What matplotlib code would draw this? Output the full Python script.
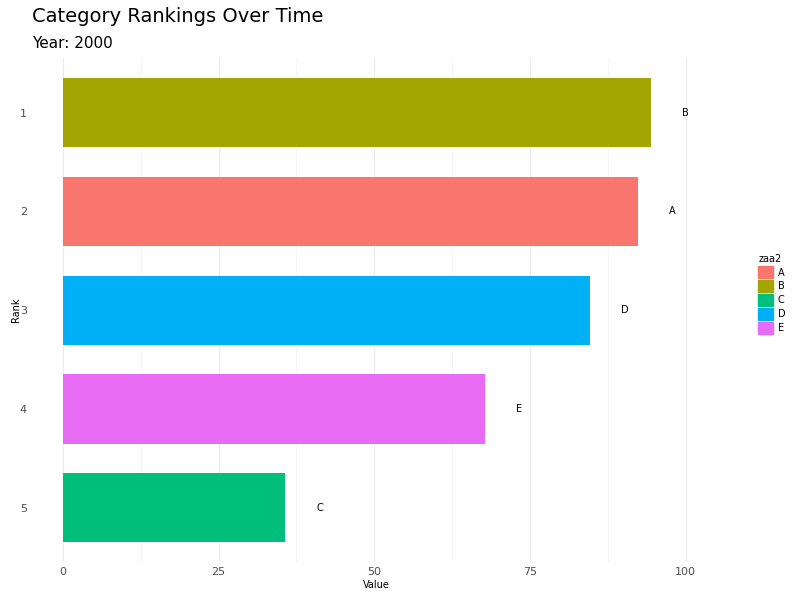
import matplotlib.pyplot as plt
import matplotlib.patches as mpatches

categories = ["B", "A", "D", "E", "C"]
values = [94.4, 92.3, 84.7, 67.8, 35.7]
ranks = [1, 2, 3, 4, 5]
legend_cats = ["A", "B", "C", "D", "E"]
colors = {"A": "#F8766D", "B": "#A3A500", "C": "#00BF7D", "D": "#00B0F6", "E": "#E76BF3"}

fig = plt.figure(figsize=(8, 6), dpi=100)
ax = fig.add_axes([0.0475, 0.063, 0.846, 0.84])

ax.barh(ranks, values, height=0.7, color=[colors[c] for c in categories], zorder=2)
for r, v, c in zip(ranks, values, categories):
    ax.text(v + 5.5, r, c, ha="center", va="center", fontsize=7, color="black")

ax.set_xlim(-4, 104.7)
ax.set_ylim(5.55, 0.45)
ax.set_xticks([0, 25, 50, 75, 100])
ax.set_xticks([12.5, 37.5, 62.5, 87.5], minor=True)
ax.set_yticks(ranks)
ax.tick_params(axis="both", which="both", length=0, labelsize=8, colors="#4D4D4D")
ax.tick_params(axis="y", pad=8)
ax.grid(True, axis="x", which="major", color="#EBEBEB", linewidth=0.8, zorder=0)
ax.grid(True, axis="x", which="minor", color="#F3F3F3", linewidth=0.5, zorder=0)
for s in ax.spines.values():
    s.set_visible(False)

ax.set_xlabel("Value", fontsize=7, labelpad=2)
ax.set_ylabel("Rank", fontsize=7, labelpad=-1)

fig.text(0.04, 0.972, "Category Rankings Over Time", fontsize=14, va="center")
fig.text(0.04, 0.928, "Year: 2000", fontsize=11, va="center")

handles = [mpatches.Patch(color=colors[c], label=c) for c in legend_cats]
fig.legend(handles=handles, title="zaa2", loc="center left", bbox_to_anchor=(0.937, 0.51),
           frameon=False, fontsize=7, title_fontsize=7, handlelength=1.5, handleheight=1.5,
           handletextpad=0.5, labelspacing=0.2, alignment="left")

fig.savefig("out.png", dpi=100)
